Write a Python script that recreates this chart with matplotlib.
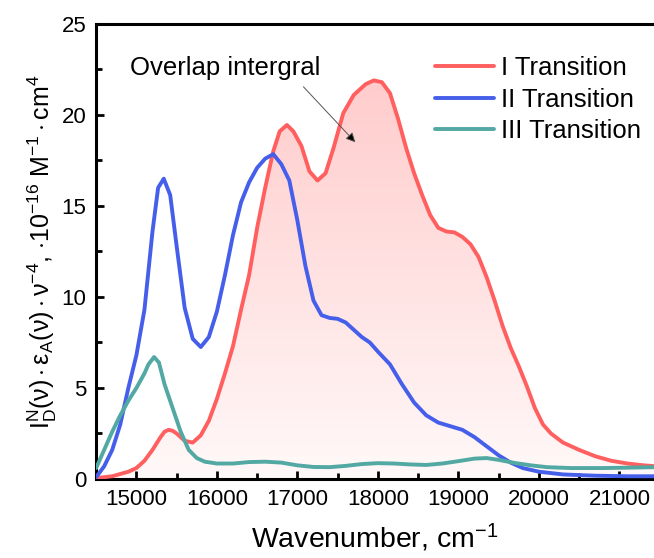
import numpy as np
import matplotlib.pyplot as plt
from matplotlib.patches import Polygon

plt.rcParams['font.family'] = ['Liberation Sans', 'DejaVu Sans']
plt.rcParams['mathtext.fontset'] = 'custom'
plt.rcParams['mathtext.rm'] = 'Liberation Sans'
plt.rcParams['mathtext.it'] = 'Liberation Sans:italic'

# I Transition
x1 = [14500, 14700, 14900, 15000, 15100, 15200, 15300, 15350, 15400, 15450,
      15500, 15600, 15700, 15800, 15900, 16000, 16100, 16200, 16300, 16400,
      16500, 16600, 16700, 16780, 16870, 16950, 17050, 17150, 17250, 17350,
      17450, 17570, 17700, 17850, 17950, 18050, 18150, 18250, 18350, 18450,
      18550, 18650, 18750, 18850, 18950, 19050, 19150, 19250, 19350, 19450,
      19550, 19650, 19750, 19850, 19950, 20050, 20150, 20300, 20500, 20700,
      20900, 21100, 21300, 21450]
y1 = [0.05, 0.15, 0.4, 0.6, 1.0, 1.6, 2.3, 2.6, 2.7, 2.65,
      2.5, 2.1, 2.0, 2.4, 3.2, 4.4, 5.8, 7.3, 9.3, 11.2,
      13.8, 16.0, 18.0, 19.1, 19.45, 19.1, 18.3, 16.9, 16.4, 16.8,
      18.2, 20.1, 21.1, 21.7, 21.9, 21.8, 21.2, 19.8, 18.2, 16.8,
      15.6, 14.5, 13.8, 13.6, 13.55, 13.3, 12.9, 12.2, 11.1, 9.8,
      8.4, 7.2, 6.2, 5.1, 3.9, 3.0, 2.5, 2.0, 1.6, 1.25,
      1.0, 0.85, 0.75, 0.7]

# II Transition
x2 = [14500, 14600, 14700, 14800, 14900, 15000, 15100, 15200, 15270, 15340,
      15420, 15500, 15600, 15700, 15800, 15900, 16000, 16100, 16200, 16300,
      16400, 16500, 16600, 16700, 16800, 16900, 17000, 17100, 17200, 17300,
      17400, 17500, 17600, 17700, 17800, 17900, 18000, 18150, 18300, 18450,
      18600, 18750, 18900, 19050, 19200, 19350, 19500, 19650, 19800, 20000,
      20300, 20700, 21100, 21450]
y2 = [0.1, 0.7, 1.6, 3.0, 5.0, 6.8, 9.3, 13.6, 16.0, 16.5,
      15.6, 12.8, 9.4, 7.7, 7.25, 7.8, 9.2, 11.2, 13.4, 15.2,
      16.3, 17.1, 17.6, 17.85, 17.3, 16.4, 14.2, 11.7, 9.8, 9.0,
      8.85, 8.8, 8.6, 8.2, 7.8, 7.5, 7.0, 6.3, 5.2, 4.2,
      3.5, 3.1, 2.9, 2.7, 2.3, 1.8, 1.3, 0.9, 0.6, 0.4,
      0.25, 0.18, 0.15, 0.15]

# III Transition
x3 = [14500, 14600, 14700, 14800, 14900, 15000, 15100, 15150, 15220, 15280,
      15350, 15450, 15550, 15650, 15750, 15850, 16000, 16200, 16400, 16600,
      16800, 17000, 17200, 17400, 17600, 17800, 18000, 18200, 18400, 18600,
      18800, 19000, 19200, 19350, 19500, 19700, 19900, 20100, 20400, 20800,
      21200, 21450]
y3 = [0.6, 1.6, 2.6, 3.5, 4.3, 5.0, 5.8, 6.3, 6.7, 6.4,
      5.2, 3.9, 2.6, 1.6, 1.15, 0.95, 0.85, 0.85, 0.93, 0.95,
      0.9, 0.75, 0.66, 0.65, 0.72, 0.82, 0.87, 0.85, 0.8, 0.77,
      0.85, 0.98, 1.12, 1.15, 1.05, 0.88, 0.75, 0.65, 0.6, 0.6,
      0.63, 0.65]

labels = ['I Transition', 'II Transition', 'III Transition']
colors = ['#FF5F5F', '#465FEB', '#52A8A2']

fig = plt.figure(figsize=(6.54, 5.58), dpi=100)
ax = fig.add_axes([0.147, 0.1416, 0.853, 0.8154])

xmin, xmax = 14500, 21430

# gradient fill under the I Transition curve
poly = Polygon(np.column_stack([np.r_[x1[0], x1, x1[-1]], np.r_[0, y1, 0]]),
               closed=True, facecolor='none', edgecolor='none')
ax.add_patch(poly)
grad = np.linspace(1, 0, 256).reshape(-1, 1)
top = np.array([1.0, 0.80, 0.80])
bot = np.array([1.0, 0.975, 0.975])
img = bot + (top - bot) * grad[..., None]
im = ax.imshow(img, extent=[xmin, xmax, 0, max(y1)], aspect='auto', origin='upper', zorder=1)
im.set_clip_path(poly)

for x, y, c, l in zip([x1, x2, x3], [y1, y2, y3], colors, labels):
    ax.plot(x, y, color=c, lw=2.8, label=l, zorder=3, solid_capstyle='round')

ax.set_xlim(xmin, xmax)
ax.set_ylim(0, 25)
ax.set_xticks([15000, 16000, 17000, 18000, 19000, 20000, 21000])
ax.set_xticks(np.arange(14500, 21500, 1000), minor=True)
ax.set_yticks([0, 5, 10, 15, 20, 25])
ax.set_yticks([2.5, 7.5, 12.5, 17.5, 22.5], minor=True)
ax.tick_params(which='both', direction='in', width=2, labelsize=16, pad=7)
ax.tick_params(which='major', length=6)
ax.tick_params(which='minor', length=4)
ax.tick_params(top=False, right=False, which='both')
for s in ['left', 'bottom', 'top']:
    ax.spines[s].set_linewidth(2.2)
ax.spines['right'].set_visible(False)

ax.set_xlabel('Wavenumber, cm$^{-1}$', fontsize=20.5, labelpad=9)
ax.set_ylabel(r'$\mathrm{I_D^N(\nu)\cdot\varepsilon_A(\nu)\cdot\nu^{-4}}$, $\cdot10^{-16}$ M$^{-1}\cdot$cm$^4$',
              fontsize=18, labelpad=2)

ax.text(16105, 22.6, 'Overlap intergral', fontsize=18.5, ha='center', va='center')
ax.annotate('', xy=(17720, 18.5), xytext=(17075, 21.55),
            arrowprops=dict(arrowstyle='-|>', color='#666666', lw=0.7,
                            shrinkA=0, shrinkB=0, mutation_scale=14,
                            fc='black', ec='#555555'))

ax.legend(loc='upper left', bbox_to_anchor=(0.6075, 0.93), frameon=False, fontsize=18.5,
          handlelength=2.3, labelspacing=0.3, handletextpad=0.25,
          borderaxespad=0, borderpad=0)

fig.savefig('out.png', dpi=100)
